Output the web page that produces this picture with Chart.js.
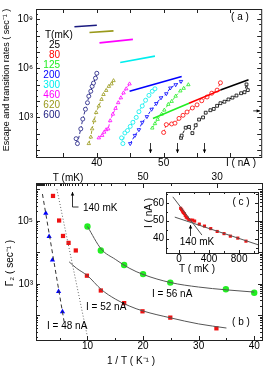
<!DOCTYPE html>
<html>
<head>
<meta charset="utf-8">
<script src="https://cdn.jsdelivr.net/npm/chart.js@4.4.1/dist/chart.umd.min.js"></script>
<style>
  body { margin: 0; background: #fff; }
  #wrap { position: relative; width: 266px; height: 367px; }
  canvas { position: absolute; }
</style>
</head>
<body>
<div id="wrap">
  <canvas id="chartA" width="266" height="170" style="left:0;top:0"></canvas>
  <canvas id="chartB" width="266" height="197" style="left:0;top:170px"></canvas>
  <canvas id="chartC" width="122" height="90" style="left:140px;top:184px"></canvas>
</div>
<script>
// ---- panel (a): escape rates vs current (values are log10 of rate) ----
const tempNames = ["25", "80", "125", "200", "300", "460", "620", "600"];
const tempColors = ["#000000", "#ff0000", "#22ee22", "#0000ff", "#00eeee", "#ff00ff", "#99991a", "#1a1a80"];

const cur25 = [52.6, 52.7, 53.3, 53.8, 54.3, 54.8, 55.3, 55.9, 56.3, 57.0, 57.5, 58.0, 58.5, 59.1, 59.7, 60.3, 60.9, 61.6, 62.1, 62.4, 62.6];
const rate25 = [1.75, 1.89, 2.37, 2.42, 2.04, 2.52, 2.87, 3.0, 3.29, 3.44, 3.52, 3.71, 3.87, 3.96, 4.1, 4.21, 4.34, 4.48, 4.54, 5.02, 4.67];
const cur80 = [50.0, 50.4, 51.2, 51.7, 52.3, 52.9, 53.5, 54.3, 55.0, 55.7, 56.5, 57.2, 58.0, 58.5];
const rate80 = [2.08, 2.56, 2.6, 2.65, 2.94, 3.13, 3.33, 3.58, 3.77, 4.02, 4.25, 4.48, 4.67, 5.12];
const cur125 = [48.3, 48.7, 49.1, 49.7, 50.1, 50.7, 51.2, 51.8, 52.5, 53.0, 53.7];
const rate125 = [2.35, 2.62, 2.88, 3.2, 3.45, 3.8, 3.98, 4.3, 4.62, 4.78, 5.0];
const cur200 = [45.0, 45.7, 46.3, 46.8, 47.5, 48.2, 48.9, 49.6, 50.4, 51.0, 51.8, 52.6];
const rate200 = [1.4, 1.9, 2.25, 2.7, 3.05, 3.5, 3.85, 4.2, 4.45, 4.8, 5.0, 5.2];
const cur300 = [43.7, 43.9, 44.2, 44.6, 45.0, 45.4, 45.9, 46.3, 46.8, 47.3, 47.8, 48.3, 48.7];
const rate300 = [1.75, 1.4, 2.05, 2.2, 2.45, 2.7, 3.0, 3.35, 3.7, 4.05, 4.35, 4.6, 4.75];
const cur460 = [40.3, 40.8, 41.1, 41.4, 41.7, 42.0, 42.4, 42.8, 43.2, 43.6, 44.0, 44.4, 44.9];
const rate460 = [1.75, 1.9, 2.1, 2.25, 2.3, 2.8, 3.2, 3.55, 3.9, 4.2, 4.5, 4.75, 5.05];
const cur620 = [38.8, 39.1, 39.3, 39.6, 39.9, 40.3, 40.7, 41.0, 41.4, 41.8, 42.2, 42.5];
const rate620 = [1.4, 1.8, 2.3, 2.8, 3.3, 3.7, 4.1, 4.4, 4.65, 4.9, 5.05, 5.25];
const cur600 = [36.9, 37.1, 37.6, 37.9, 38.3, 38.6, 38.8, 39.1, 39.3, 39.5, 39.8, 40.0];
const rate600 = [1.7, 1.4, 2.3, 2.9, 3.5, 3.9, 4.3, 4.6, 4.9, 5.1, 5.4, 5.7];

// solid transition-rate lines, [start, end]
const lineCur = [[58.5, 62.7], [53.8, 58.5], [48.4, 53.8], [44.9, 52.7], [43.5, 48.7], [40.4, 45.4], [38.9, 42.5], [36.65, 40.0]];
const lineRate = [[4.67, 5.31], [3.87, 4.67], [2.94, 3.87], [4.6, 5.5], [6.36, 6.75], [7.56, 7.77], [8.19, 8.29], [8.54, 8.64]];

const arrowCur = [48, 52, 56];
const xTicksA = [35, 40, 45, 50, 55, 60];
const xLabelsA = [40, 50];
const yLabelsA = [3, 6, 9];

// ---- panel (b): Gamma_2 vs 1/T (log10 of rate) ----
const invT48 = [2.5, 3.1, 3.7, 4.8, 5.5];
const gam48 = [5.24, 4.5, 3.76, 2.76, 2.12];
const invT52 = [3.8, 4.9, 5.6, 6.6, 7.9, 9.9, 12.4, 16.6, 19.9, 24.9, 33.2];
const gam52 = [5.79, 5.01, 4.52, 4.3, 4.06, 3.26, 2.79, 2.39, 2.13, 1.93, 1.59];
const invT56 = [10.0, 12.4, 16.6, 20.0, 24.9, 34.9, 40.0];
const gam56 = [4.82, 4.06, 3.6, 3.31, 3.04, 2.83, 2.72];
const fit56X = [10, 12.5, 15, 17.5, 20, 25, 30, 35, 40];
const fit56Y = [4.82, 4.1, 3.78, 3.5, 3.3, 3.04, 2.9, 2.81, 2.74];
const fit52X = [6.7, 8, 10, 12.5, 15, 17.5, 20, 25, 30, 35];
const fit52Y = [3.7, 3.5, 3.26, 2.82, 2.52, 2.3, 2.14, 1.92, 1.73, 1.6];
const dash48X = [1.9, 5.8];
const dash48Y = [5.85, 1.8];
const dotX = [4.5, 9.9];
const dotY = [6.0, 1.4];
const xLabelsB = [10, 20, 30, 40];
const topTempsB = [1000, 950, 900, 850, 800, 750, 700, 650, 600, 550, 500, 450, 400, 350, 300, 250, 200, 190, 180, 170, 160, 150, 140, 130, 120, 110, 100, 90, 80, 70, 60, 50, 40, 30];
const topLabelsB = [50, 30];

// ---- panel (c): switching current vs T ----
const tempC = [22, 35, 48, 57, 70, 83, 96, 109, 130, 156, 182, 208, 270, 339, 422, 508, 599, 683, 782, 891];
const curC = [56.9, 56.1, 55.3, 54.6, 54.0, 53.0, 52.0, 51.5, 50.6, 50.3, 50.3, 49.8, 48.1, 47.0, 45.6, 44.0, 42.8, 41.4, 40.3, 38.6];
const steepT = [-82, 305];
const steepI = [63.3, 42];
const flatT = [-56, 1051];
const flatI = [52, 36.6];

const FONT = "'Liberation Sans', Arial, sans-serif";
Chart.defaults.font.family = FONT;
Chart.defaults.font.size = 10;
Chart.defaults.color = "#000";

const sup = { 1: "\u00b9", 3: "\u00b3", 5: "\u2075", 6: "\u2076", 9: "\u2079" };
const pts = (xs, ys, log) => xs.map((x, i) => ({ x: x, y: log ? Math.pow(10, ys[i]) : ys[i] }));

function setTicks(vals) {
  return (scale) => { scale.ticks = vals.map(v => ({ value: v })); };
}

function arrow(ctx, x1, y1, x2, y2, size) {
  ctx.beginPath();
  ctx.moveTo(x1, y1);
  ctx.lineTo(x2, y2);
  ctx.stroke();
  const a = Math.atan2(y2 - y1, x2 - x1);
  ctx.beginPath();
  ctx.moveTo(x2, y2);
  ctx.lineTo(x2 - size * Math.cos(a - 0.45), y2 - size * Math.sin(a - 0.45));
  ctx.lineTo(x2 - size * Math.cos(a + 0.45), y2 - size * Math.sin(a + 0.45));
  ctx.closePath();
  ctx.fill();
}

function text(ctx, s, x, y, size, align, color, rot) {
  ctx.save();
  ctx.font = size + "px " + FONT;
  ctx.fillStyle = color || "#000";
  ctx.textAlign = align || "center";
  ctx.textBaseline = "middle";
  ctx.translate(x, y);
  if (rot) ctx.rotate(rot);
  ctx.fillText(s, 0, 0);
  ctx.restore();
}

// inward ticks on the frame, drawn from the chart's own scales
function ticksOn(ctx, area, scale, vals, len, sides) {
  ctx.beginPath();
  vals.forEach(v => {
    const p = Math.round(scale.getPixelForValue(v)) + 0.5;
    if (scale.isHorizontal()) {
      if (p < area.left || p > area.right) return;
      if (sides.includes("bottom")) { ctx.moveTo(p, area.bottom); ctx.lineTo(p, area.bottom - len); }
      if (sides.includes("top")) { ctx.moveTo(p, area.top); ctx.lineTo(p, area.top + len); }
    } else {
      if (p < area.top || p > area.bottom) return;
      if (sides.includes("left")) { ctx.moveTo(area.left, p); ctx.lineTo(area.left + len, p); }
      if (sides.includes("right")) { ctx.moveTo(area.right, p); ctx.lineTo(area.right - len, p); }
    }
  });
  ctx.stroke();
}

function decades(lo, hi, minor) {
  const out = [];
  for (let e = lo; e <= hi; e++) {
    if (minor) minor.forEach(m => out.push(m * Math.pow(10, e)));
    else out.push(Math.pow(10, e));
  }
  return out;
}

function frame(ctx, area) {
  ctx.strokeStyle = "#222";
  ctx.lineWidth = 1;
  ctx.strokeRect(area.left + 0.5, area.top + 0.5, area.right - area.left, area.bottom - area.top);
}

const fixW = (w) => (scale) => { scale.width = w; };
const fixH = (h) => (scale) => { scale.height = h; };

const baseOpts = {
  responsive: false,
  animation: false,
  devicePixelRatio: 1,
  plugins: { legend: { display: false }, tooltip: { enabled: false } },
  elements: { line: { tension: 0 } }
};

function axisGrid() {
  return { display: false, drawTicks: false };
}

// ================= chart A =================
const curA = [cur25, cur80, cur125, cur200, cur300, cur460, cur620, cur600];
const rateA = [rate25, rate80, rate125, rate200, rate300, rate460, rate620, rate600];
const markA = ["rect", "circle", "triangle", "triangle", "circle", "triangle", "triangle", "circle"];
const rotA = [0, 0, 0, 180, 0, 0, 0, 0];

const dsA = [];
for (let i = 0; i < 8; i++) {
  dsA.push({
    data: pts(lineCur[i], lineRate[i], true),
    borderColor: tempColors[i], borderWidth: 1.6, pointRadius: 0, showLine: true
  });
}
for (let i = 0; i < 8; i++) {
  dsA.push({
    data: pts(curA[i], rateA[i], true),
    borderColor: tempColors[i], borderWidth: 0.9, borderDash: [3, 2],
    pointStyle: markA[i], rotation: rotA[i], pointRadius: 2,
    pointBorderWidth: 0.8, pointBorderColor: tempColors[i], pointBackgroundColor: "#fff",
    showLine: true
  });
}

const annoA = {
  id: "annoA",
  afterDraw(chart) {
    const ctx = chart.ctx, a = chart.chartArea;
    const sx = chart.scales.x, sy = chart.scales.y;
    ctx.save();
    frame(ctx, a);
    ticksOn(ctx, a, sx, xTicksA, 4, ["bottom", "top"]);
    ticksOn(ctx, a, sy, decades(1, 9), 4, ["left", "right"]);
    ticksOn(ctx, a, sy, decades(0, 9, [2, 5]), 2, ["left", "right"]);
    // legend
    text(ctx, "T(mK)", a.left + 9, 35, 10, "left");
    tempNames.forEach((n, i) => text(ctx, n, a.left + 24, 45.5 + i * 10, 10, "right", tempColors[i]));
    text(ctx, "( a )", 240, 17, 10);
    text(ctx, "I ( nA )", 241, 163, 10);
    text(ctx, "Escape and transition rates ( sec\u207b\u00b9 )", 7, 80, 9, "center", "#000", -Math.PI / 2);
    ctx.fillStyle = "#000";
    ctx.strokeStyle = "#000";
    ctx.lineWidth = 0.8;
    arrowCur.forEach(c => {
      const x = Math.round(sx.getPixelForValue(c)) + 0.5;
      arrow(ctx, x, a.bottom - 14, x, a.bottom - 4, 4);
    });
    const ya = sy.getPixelForValue(Math.pow(10, 3.4));
    arrow(ctx, a.right - 8, ya, a.right - 1, ya, 4);
    ctx.restore();
  }
};

new Chart(document.getElementById("chartA"), {
  type: "scatter",
  data: { datasets: dsA },
  options: Object.assign({}, baseOpts, {
    layout: { padding: { left: 0, top: 1, right: 4, bottom: 0 } },
    scales: {
      x: {
        type: "linear", min: 30.9, max: 64.6,
        grid: axisGrid(), border: { display: false },
        afterBuildTicks: setTicks(xLabelsA), afterFit: fixH(13),
        ticks: { padding: 0, maxRotation: 0, autoSkip: false }
      },
      y: {
        type: "logarithmic", min: Math.pow(10, 0.58), max: Math.pow(10, 9.63),
        grid: axisGrid(), border: { display: false },
        afterBuildTicks: setTicks(yLabelsA.map(e => Math.pow(10, e))), afterFit: fixW(36),
        ticks: { padding: 3, autoSkip: false, callback: (v) => "10" + sup[Math.round(Math.log10(v))] }
      }
    }
  }),
  plugins: [annoA]
});

// ================= chart B =================
const annoB = {
  id: "annoB",
  afterDraw(chart) {
    const ctx = chart.ctx, a = chart.chartArea;
    const sx = chart.scales.x, sy = chart.scales.y, st = chart.scales.xT;
    ctx.save();
    frame(ctx, a);
    ticksOn(ctx, a, sx, xLabelsB, 4, ["bottom"]);
    ticksOn(ctx, a, sx, [5, 15, 25, 35], 2, ["bottom"]);
    ticksOn(ctx, a, st, topTempsB.map(t => 1000 / t), 3, ["top"]);
    ticksOn(ctx, a, st, topLabelsB.map(t => 1000 / t), 5, ["top"]);
    ticksOn(ctx, a, sy, decades(2, 6), 4, ["left", "right"]);
    ticksOn(ctx, a, sy, decades(1, 6, [2, 3, 4, 5, 6, 7, 8, 9]), 2, ["left", "right"]);
    text(ctx, "T (mK)", 68, 8, 10);
    text(ctx, "I = 48 nA", 47, 156, 10, "left");
    text(ctx, "I = 52 nA", 86, 137, 10, "left");
    text(ctx, "I = 56 nA", 152, 124, 10, "left");
    text(ctx, "( b )", 241, 152, 10);
    text(ctx, "1 / T ( K\u207b\u00b9 )", 131, 191, 10);
    text(ctx, "\u0393\u2082 ( sec\u207b\u00b9 )", 10, 93, 10, "center", "#000", -Math.PI / 2);
    // 140 mK marker
    ctx.strokeStyle = "#000";
    ctx.fillStyle = "#000";
    ctx.lineWidth = 0.8;
    const x140 = Math.round(sx.getPixelForValue(1000 / 140)) + 0.5;
    arrow(ctx, x140, 37, x140, 22, 4);
    ctx.beginPath();
    ctx.moveTo(x140, 37);
    ctx.lineTo(x140 + 6, 37);
    ctx.stroke();
    text(ctx, "140 mK", 83, 38, 10, "left");
    ctx.restore();
  }
};

new Chart(document.getElementById("chartB"), {
  type: "scatter",
  data: {
    datasets: [
      { data: pts(fit56X, fit56Y, true), showLine: true, borderColor: "#555", borderWidth: 1, pointRadius: 0, cubicInterpolationMode: "monotone" },
      { data: pts(fit52X, fit52Y, true), showLine: true, borderColor: "#555", borderWidth: 1, pointRadius: 0, cubicInterpolationMode: "monotone" },
      { data: pts(dash48X, dash48Y, true), showLine: true, borderColor: "#333", borderWidth: 1, borderDash: [4, 3], pointRadius: 0 },
      { data: pts(dotX, dotY, true), showLine: true, borderColor: "#666", borderWidth: 1, borderDash: [1, 2], pointRadius: 0 },
      { data: pts(invT48, gam48, true), pointStyle: "triangle", pointRadius: 3, pointBackgroundColor: "#0000ff", pointBorderColor: "#0000ff", pointBorderWidth: 0 },
      { data: pts(invT52, gam52, true), pointStyle: "rect", pointRadius: 3, pointBackgroundColor: "#ee1111", pointBorderColor: "#ee1111", pointBorderWidth: 0 },
      { data: pts(invT56, gam56, true), pointStyle: "circle", pointRadius: 3.2, pointBackgroundColor: "#22ee22", pointBorderColor: "#22ee22", pointBorderWidth: 0 }
    ]
  },
  options: Object.assign({}, baseOpts, {
    layout: { padding: { left: 0, top: 0, right: 3, bottom: 0 } },
    scales: {
      x: {
        type: "linear", position: "bottom", min: 0.74, max: 41.4,
        grid: axisGrid(), border: { display: false },
        afterBuildTicks: setTicks(xLabelsB), afterFit: fixH(27),
        ticks: { padding: 0, maxRotation: 0, autoSkip: false }
      },
      xT: {
        type: "linear", position: "top", min: 0.74, max: 41.4,
        grid: axisGrid(), border: { display: false },
        afterBuildTicks: setTicks(topLabelsB.map(t => 1000 / t)), afterFit: fixH(13),
        ticks: { padding: 0, maxRotation: 0, autoSkip: false, callback: (v) => String(Math.round(1000 / v)) }
      },
      y: {
        type: "logarithmic", min: Math.pow(10, 1.22), max: Math.pow(10, 6.2),
        grid: axisGrid(), border: { display: false },
        afterBuildTicks: setTicks([1e3, 1e5]), afterFit: fixW(36),
        ticks: { padding: 3, autoSkip: false, callback: (v) => "10" + sup[Math.round(Math.log10(v))] }
      }
    }
  }),
  plugins: [annoB]
});

// ================= chart C (inset) =================
const annoC = {
  id: "annoC",
  beforeDraw(chart) {
    const ctx = chart.ctx, a = chart.chartArea;
    ctx.save();
    ctx.fillStyle = "#fff";
    ctx.fillRect(a.left, a.top, a.right - a.left, a.bottom - a.top);
    ctx.restore();
  },
  afterDraw(chart) {
    const ctx = chart.ctx, a = chart.chartArea;
    const sx = chart.scales.x, sy = chart.scales.y;
    ctx.save();
    frame(ctx, a);
    ticksOn(ctx, a, sx, [0, 400, 800], 3, ["bottom", "top"]);
    ticksOn(ctx, a, sx, [200, 600, 1000], 2, ["bottom", "top"]);
    ticksOn(ctx, a, sy, [40, 50, 60], 3, ["left", "right"]);
    ticksOn(ctx, a, sy, [35, 45, 55, 65], 2, ["left", "right"]);
    text(ctx, "( c )", 101, 18, 10);
    text(ctx, "I ( nA )", 9, 29, 10, "center", "#000", -Math.PI / 2);
    text(ctx, "T ( mK )", 57, 85, 10);
    text(ctx, "140 mK", 57, 58, 10);
    ctx.strokeStyle = "#000";
    ctx.fillStyle = "#000";
    ctx.lineWidth = 0.8;
    const x140 = Math.round(sx.getPixelForValue(140)) + 0.5;
    arrow(ctx, x140, 52, x140, 41, 4);
    ctx.restore();
  }
};

new Chart(document.getElementById("chartC"), {
  type: "scatter",
  data: {
    datasets: [
      { data: pts(steepT, steepI, false), showLine: true, borderColor: "#555", borderWidth: 1, pointRadius: 0 },
      { data: pts(flatT, flatI, false), showLine: true, borderColor: "#555", borderWidth: 1, pointRadius: 0 },
      { data: pts(tempC, curC, false), pointStyle: "rect", pointRadius: 2.2, pointBackgroundColor: "#ee1111", pointBorderColor: "#ee1111", pointBorderWidth: 0 }
    ]
  },
  options: Object.assign({}, baseOpts, {
    layout: { padding: { left: 0, top: 1, right: 2, bottom: 0 } },
    scales: {
      x: {
        type: "linear", min: -173, max: 1051,
        grid: axisGrid(), border: { display: false },
        afterBuildTicks: setTicks([0, 400, 800]), afterFit: fixH(21),
        ticks: { padding: 0, maxRotation: 0, autoSkip: false }
      },
      y: {
        type: "linear", min: 32, max: 66,
        grid: axisGrid(), border: { display: false },
        afterBuildTicks: setTicks([40, 50, 60]), afterFit: fixW(26),
        ticks: { padding: 2, autoSkip: false }
      }
    }
  }),
  plugins: [annoC]
});
</script>
</body>
</html>
